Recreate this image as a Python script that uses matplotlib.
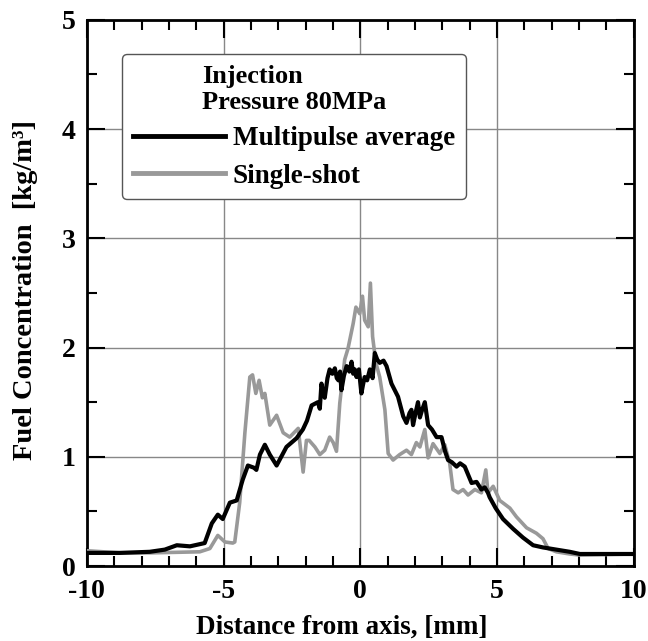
import numpy as np
import matplotlib
matplotlib.use('Agg')
import matplotlib.pyplot as plt
from matplotlib.ticker import MultipleLocator

# multipulse average (black)
x_multi = [-10.00, -8.79, -7.70, -7.15, -6.71, -6.23, -5.69, -5.43, -5.21, -5.03,
           -4.77, -4.52, -4.30, -4.11, -3.89, -3.80, -3.67, -3.49, -3.31, -3.06,
           -2.70, -2.33, -2.10, -1.95, -1.78, -1.55, -1.48, -1.42, -1.36, -1.30,
           -1.20, -1.12, -1.02, -0.93, -0.86, -0.80, -0.74, -0.69, -0.60, -0.50,
           -0.40, -0.32, -0.26, -0.20, -0.14, -0.05, 0.04, 0.10, 0.16, 0.25,
           0.35, 0.45, 0.53, 0.62, 0.71, 0.85, 0.96, 1.14, 1.38, 1.57,
           1.69, 1.80, 1.87, 1.93, 2.02, 2.11, 2.18, 2.25, 2.36, 2.48,
           2.62, 2.79, 2.97, 3.10, 3.21, 3.35, 3.52, 3.65, 3.82, 4.07,
           4.25, 4.43, 4.55, 4.67, 4.73, 4.95, 5.22, 5.59, 5.95, 6.32,
           6.68, 7.17, 7.66, 8.03, 10.00]
y_multi = [0.12, 0.12, 0.13, 0.15, 0.19, 0.18, 0.21, 0.39, 0.47, 0.43,
           0.58, 0.60, 0.79, 0.92, 0.90, 0.88, 1.02, 1.11, 1.02, 0.92,
           1.09, 1.17, 1.25, 1.33, 1.47, 1.50, 1.44, 1.67, 1.58, 1.54,
           1.72, 1.80, 1.76, 1.81, 1.72, 1.70, 1.78, 1.61, 1.74, 1.83,
           1.78, 1.87, 1.76, 1.80, 1.73, 1.80, 1.58, 1.66, 1.73, 1.70,
           1.80, 1.72, 1.95, 1.89, 1.86, 1.88, 1.83, 1.67, 1.55, 1.37,
           1.31, 1.40, 1.43, 1.29, 1.40, 1.50, 1.36, 1.42, 1.50, 1.29,
           1.25, 1.18, 1.18, 1.05, 0.97, 0.95, 0.91, 0.94, 0.91, 0.76,
           0.77, 0.70, 0.72, 0.67, 0.63, 0.53, 0.43, 0.34, 0.26, 0.19,
           0.17, 0.15, 0.13, 0.11, 0.11]

# single-shot (gray)
x_single = [-10.00, -8.79, -7.70, -5.87, -5.50, -5.21, -4.95, -4.66, -4.59, -4.41,
            -4.22, -4.04, -3.94, -3.82, -3.70, -3.58, -3.49, -3.31, -3.06, -2.82,
            -2.58, -2.27, -2.09, -1.97, -1.87, -1.66, -1.48, -1.30, -1.12, -0.99,
            -0.87, -0.75, -0.57, -0.45, -0.26, -0.16, -0.02, 0.08, 0.16, 0.29,
            0.37, 0.45, 0.57, 0.71, 0.90, 1.02, 1.20, 1.44, 1.69, 1.87,
            2.05, 2.18, 2.36, 2.48, 2.66, 2.91, 3.09, 3.27, 3.39, 3.58,
            3.76, 3.94, 4.19, 4.43, 4.59, 4.67, 4.86, 5.10, 5.47, 5.71,
            6.08, 6.44, 6.68, 6.87, 7.17, 7.66, 8.03, 10.00]
y_single = [0.14, 0.12, 0.12, 0.13, 0.16, 0.28, 0.22, 0.21, 0.22, 0.58,
            1.22, 1.73, 1.75, 1.58, 1.70, 1.54, 1.58, 1.29, 1.38, 1.22,
            1.18, 1.26, 0.86, 1.15, 1.15, 1.09, 1.02, 1.06, 1.18, 1.13,
            1.05, 1.49, 1.89, 1.99, 2.22, 2.37, 2.31, 2.47, 2.25, 2.19,
            2.59, 2.10, 1.86, 1.73, 1.43, 1.03, 0.97, 1.02, 1.06, 1.02,
            1.13, 1.09, 1.25, 0.99, 1.12, 1.03, 1.11, 0.94, 0.70, 0.67,
            0.70, 0.65, 0.70, 0.67, 0.88, 0.67, 0.73, 0.60, 0.53, 0.45,
            0.35, 0.30, 0.25, 0.16, 0.13, 0.11, 0.10, 0.11]

plt.rcParams['font.family'] = ['Liberation Serif', 'DejaVu Serif']
plt.rcParams['font.weight'] = 'bold'
plt.rcParams['axes.unicode_minus'] = False

fig = plt.figure(figsize=(6.48, 6.41), dpi=100)
ax = fig.add_axes([0.134, 0.117, 0.844, 0.852])

ax.plot(x_single, y_single, color='#999999', lw=2.6, label='Single-shot', zorder=3)
ax.plot(x_multi, y_multi, color='black', lw=3.0, label='Multipulse average', zorder=4)

ax.set_xlim(-10, 10)
ax.set_ylim(0, 5)
ax.xaxis.set_major_locator(MultipleLocator(5))
ax.xaxis.set_minor_locator(MultipleLocator(1))
ax.yaxis.set_major_locator(MultipleLocator(1))
ax.yaxis.set_minor_locator(MultipleLocator(0.5))
ax.tick_params(which='both', direction='in', top=True, right=True, width=1.5,
               labelsize=20)
ax.tick_params(which='major', length=13)
ax.tick_params(which='minor', length=7)
ax.tick_params(axis='x', pad=9)
ax.tick_params(axis='y', pad=8)
for s in ax.spines.values():
    s.set_linewidth(2)
ax.grid(True, which='major', color='#888888', lw=1)

ax.set_xlabel('Distance from axis, [mm]', fontsize=19.5, fontweight='bold')
ax.xaxis.set_label_coords(0.466, -0.09)
ax.set_ylabel('Fuel Concentration  [kg/m³]', fontsize=20.5, fontweight='bold')
ax.yaxis.set_label_coords(-0.09, 0.505)

handles, labels = ax.get_legend_handles_labels()
leg = ax.legend(handles[::-1], labels[::-1], title='Injection\nPressure 80MPa',
                loc='upper left', bbox_to_anchor=(0.064, 0.938), borderaxespad=0,
                fontsize=19.5, title_fontproperties={'size': 19, 'weight': 'bold'},
                handlelength=3.4, handletextpad=0.3, labelspacing=0.45,
                fancybox=True, framealpha=1, edgecolor='#555555',
                borderpad=0.4)
leg.get_title().set_multialignment('left')
leg.get_frame().set_linewidth(1)
for line in leg.get_lines():
    line.set_linewidth(3.5)

fig.savefig('out.png', dpi=100)
